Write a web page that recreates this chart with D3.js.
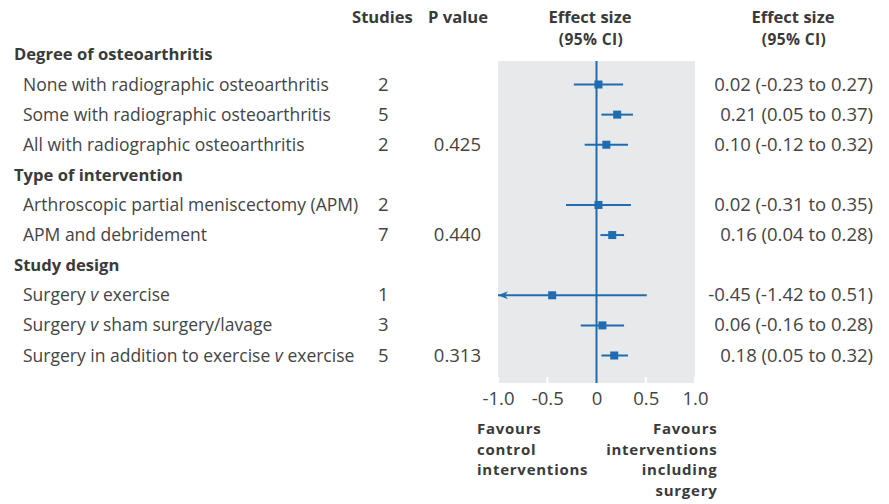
<!DOCTYPE html>
<html>
<head>
<meta charset="utf-8">
<script src="https://cdn.jsdelivr.net/npm/d3@7"></script>
<style>
  html, body { margin: 0; padding: 0; background: #fff; }
  svg { display: block; font-family: "Open Sans", sans-serif; }
</style>
</head>
<body>
<svg id="chart" width="889" height="504"></svg>
<script>
// ---- Data ----
const groups = ["Degree of osteoarthritis", "Type of intervention", "Study design"];
const rowLabels = [
  "None with radiographic osteoarthritis",
  "Some with radiographic osteoarthritis",
  "All with radiographic osteoarthritis",
  "Arthroscopic partial meniscectomy (APM)",
  "APM and debridement",
  "Surgery |v| exercise",
  "Surgery |v| sham surgery/lavage",
  "Surgery in addition to exercise |v| exercise"
];
const rowGroup = [0, 0, 0, 1, 1, 2, 2, 2];
const studies = [2, 5, 2, 2, 7, 1, 3, 5];
const pValues = ["", "", "0.425", "", "0.440", "", "", "0.313"];
const estimates = [0.02, 0.21, 0.10, 0.02, 0.16, -0.45, 0.06, 0.18];
const lower = [-0.23, 0.05, -0.12, -0.31, 0.04, -1.42, -0.16, 0.05];
const upper = [0.27, 0.37, 0.32, 0.35, 0.28, 0.51, 0.28, 0.32];
const ciText = [
  "0.02 (-0.23 to 0.27)",
  "0.21 (0.05 to 0.37)",
  "0.10 (-0.12 to 0.32)",
  "0.02 (-0.31 to 0.35)",
  "0.16 (0.04 to 0.28)",
  "-0.45 (-1.42 to 0.51)",
  "0.06 (-0.16 to 0.28)",
  "0.18 (0.05 to 0.32)"
];
const tickValues = [-1.0, -0.5, 0, 0.5, 1.0];
const tickLabels = ["-1.0", "-0.5", "0", "0.5", "1.0"];
const leftNote = ["Favours", "control", "interventions"];
const rightNote = ["Favours", "interventions", "including", "surgery"];

// ---- Layout ----
const svg = d3.select("#chart");
const textColor = "#444";
const headColor = "#3a3a3a";
const blue = "#1f6cb0";
const fsLabel = 17.5, fsNum = 18.5, fsBold = 16.6;

const rows = [];
groups.forEach((g, gi) => {
  rows.push({type: "header", label: g});
  rowLabels.forEach((l, i) => {
    if (rowGroup[i] === gi) rows.push({type: "row", i});
  });
});

const y = d3.scalePoint().domain(d3.range(rows.length)).range([54.4, 355.5]);
const x = d3.scaleLinear().domain([-1, 1]).range([498, 695]);
const panelTop = 61, panelBottom = 383;

svg.append("rect")
  .attr("x", x(-1)).attr("y", panelTop)
  .attr("width", x(1) - x(-1)).attr("height", panelBottom - panelTop)
  .attr("fill", "#e8e9eb");

svg.append("g").selectAll("line").data(tickValues.filter(v => v !== 0)).join("line")
  .attr("x1", d => x(d)).attr("x2", d => x(d))
  .attr("y1", panelBottom - 6).attr("y2", panelBottom)
  .attr("stroke", "#fff").attr("stroke-width", 2);

svg.append("line")
  .attr("x1", x(0)).attr("x2", x(0))
  .attr("y1", panelTop).attr("y2", panelBottom)
  .attr("stroke", blue).attr("stroke-width", 2);

const axis = d3.axisBottom(x).tickValues(tickValues)
  .tickFormat((d, i) => tickLabels[i]).tickSize(0).tickPadding(0);
const ag = svg.append("g").attr("transform", `translate(0, ${panelBottom})`).call(axis);
ag.select(".domain").remove();
ag.selectAll("text")
  .attr("y", 22).attr("dy", null)
  .attr("font-family", "Open Sans, sans-serif")
  .attr("font-size", fsNum).attr("fill", textColor);

const hdr = svg.append("g").attr("font-weight", "bold").attr("font-size", fsBold).attr("fill", headColor);
hdr.append("text").attr("x", 352).attr("y", 23).text("Studies");
hdr.append("text").attr("x", 428).attr("y", 23).text("P value");
[590, 793].forEach(cx => {
  hdr.append("text").attr("text-anchor", "middle").attr("x", cx).attr("y", 23).text("Effect size");
  hdr.append("text").attr("text-anchor", "middle").attr("x", cx + 1).attr("y", 45)
    .attr("font-size", 15.5).attr("letter-spacing", 0.4).text("(95% CI)");
});

const rg = svg.append("g");
rows.forEach((r, k) => {
  const yy = y(k) + 6;
  if (r.type === "header") {
    rg.append("text").attr("x", 14).attr("y", yy).attr("font-size", fsBold)
      .attr("font-weight", "bold").attr("fill", headColor).text(r.label);
    return;
  }
  const i = r.i;
  const t = rg.append("text").attr("x", 23).attr("y", yy)
    .attr("font-size", fsLabel).attr("fill", textColor);
  rowLabels[i].split("|").forEach((part, pi) => {
    if (!part) return;
    const ts = t.append("tspan").text(part);
    if (pi % 2 === 1) ts.attr("font-style", "italic");
  });
  rg.append("text").attr("x", 378).attr("y", yy).attr("font-size", fsNum)
    .attr("fill", textColor).text(studies[i]);
  if (pValues[i]) rg.append("text").attr("x", 481).attr("y", yy).attr("font-size", fsNum)
    .attr("text-anchor", "end").attr("fill", textColor).text(pValues[i]);
  rg.append("text").attr("x", 873).attr("y", yy).attr("font-size", fsNum)
    .attr("text-anchor", "end").attr("fill", textColor).text(ciText[i]);

  const lo = Math.max(lower[i], -1), hi = Math.min(upper[i], 1);
  const cy = y(k);
  rg.append("line")
    .attr("x1", x(lo)).attr("x2", x(hi)).attr("y1", cy).attr("y2", cy)
    .attr("stroke", blue).attr("stroke-width", 2);
  if (lower[i] < -1) {
    const ax = x(-1);
    rg.append("path")
      .attr("d", `M${ax},${cy} L${ax + 10},${cy - 4} L${ax + 7},${cy} L${ax + 10},${cy + 4} Z`)
      .attr("fill", blue);
  }
  const s = 8;
  rg.append("rect")
    .attr("x", x(estimates[i]) - s / 2).attr("y", cy - s / 2)
    .attr("width", s).attr("height", s).attr("fill", blue);
});

// notes under the axis: slightly smaller glyphs with tracking so line boxes don't collide
const fsNote = 15;
const fn = svg.append("g").attr("font-weight", "bold").attr("font-size", fsNote)
  .attr("letter-spacing", 0.75).attr("fill", headColor);
leftNote.forEach((l, i) => fn.append("text").attr("x", 477).attr("y", 434 + i * 20.7).text(l));
rightNote.forEach((l, i) => fn.append("text").attr("x", 717.5).attr("y", 434 + i * 20.7)
  .attr("text-anchor", "end").text(l));
</script>
</body>
</html>
